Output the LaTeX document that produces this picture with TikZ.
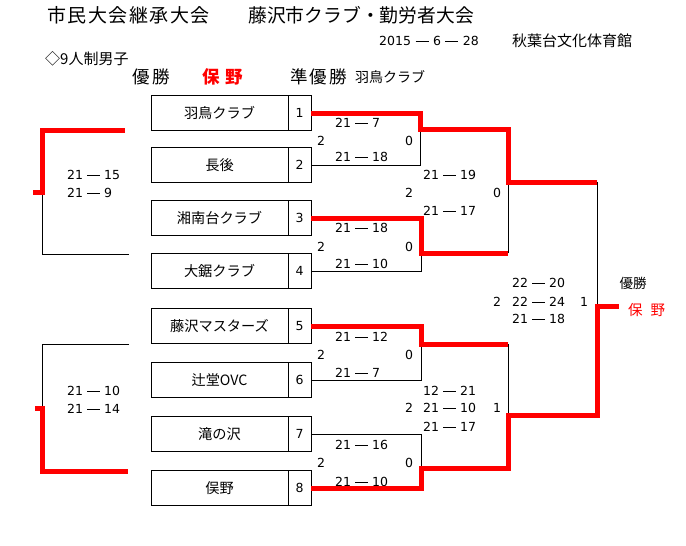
\documentclass[tikz,border=0pt]{standalone}
\usepackage{fontspec}
\setmainfont{Noto Sans CJK JP}
\newfontfamily\digfont{DejaVu Sans}
\newcommand\fsz[1]{\fontsize{#1}{#1}\selectfont}
\newcommand\mydash[1]{\kern#1\rule[4.1pt]{13pt}{0.9pt}\kern#1}
\newcommand\myscore[2]{#1\mydash{4pt}#2}
\begin{document}
\begin{tikzpicture}[x=1pt,y=-1pt,
  bline/.style={line width=0.8pt,black},
  win/.style={line width=5pt,red},
  namebox/.style={draw,line width=0.8pt,minimum width=137pt,minimum height=35pt,inner sep=0pt,outer sep=0pt,font=\fsz{14.2}},
  numbox/.style={draw,line width=0.8pt,minimum width=23pt,minimum height=35pt,inner sep=0pt,outer sep=0pt,font=\digfont\fsz{12.5},anchor=west},
  scorelbl/.style={anchor=west,inner sep=0pt,font=\digfont\fsz{12.5}},
  setlbl/.style={inner sep=0pt,font=\digfont\fsz{12.5}},
  hdr/.style={anchor=west,inner sep=0pt},
]
\useasboundingbox (0,0) rectangle (686,546);

% header
\node[hdr,font=\fsz{19}] (title1) at (47,15) {市\kern1.5pt民\kern1.5pt大\kern1.5pt会\kern1.5pt継\kern1.5pt承\kern1.5pt大\kern1.5pt会};
\node[hdr,font=\fsz{18.8}] (title2) at (248,15) {藤沢市クラブ・勤労者大会};
\node[hdr,font=\digfont\fsz{12.5}] (date) at (379,41) {2015\mydash{4.5pt}6\mydash{4.5pt}28};
\node[hdr,font=\fsz{15}] (venue) at (512,41) {秋葉台文化体育館};
\node[hdr,font=\fsz{15}] (cat) at (45,59) {◇9人制男子};
\node[hdr,font=\fsz{17.5}] (wlbl) at (132,77) {優\kern3pt勝};
\node[hdr,font=\fsz{17.5}\bfseries,text=red] (wname) at (202,77) {保\kern6pt野};
\node[hdr,font=\fsz{17.5}] (rlbl) at (290,77) {準\kern2pt優\kern2pt勝};
\node[hdr,font=\fsz{14}] (rname) at (355,77) {羽鳥クラブ};

% teams
\node[namebox] (t1) at (219.5,113) {羽鳥クラブ};
\node[numbox] (n1) at (t1.east) {1};
\node[namebox] (t2) at (219.5,165) {長後};
\node[numbox] (n2) at (t2.east) {2};
\node[namebox] (t3) at (219.5,218) {湘南台クラブ};
\node[numbox] (n3) at (t3.east) {3};
\node[namebox] (t4) at (219.5,271) {大鋸クラブ};
\node[numbox] (n4) at (t4.east) {4};
\node[namebox] (t5) at (219.5,326) {藤沢マスターズ};
\node[numbox] (n5) at (t5.east) {5};
\node[namebox] (t6) at (219.5,380) {辻堂OVC};
\node[numbox] (n6) at (t6.east) {6};
\node[namebox] (t7) at (219.5,434) {滝の沢};
\node[numbox] (n7) at (t7.east) {7};
\node[namebox] (t8) at (219.5,488) {俣野};
\node[numbox] (n8) at (t8.east) {8};

% scores round 1
\node[scorelbl] (sA1) at (335,123) {\myscore{21}{7}};
\node[setlbl] (wA) at (321,141) {2};
\node[setlbl] (lA) at (409,141) {0};
\node[scorelbl] (sA2) at (335,157) {\myscore{21}{18}};
\node[scorelbl] (sB1) at (335,228) {\myscore{21}{18}};
\node[setlbl] (wB) at (321,247) {2};
\node[setlbl] (lB) at (409,247) {0};
\node[scorelbl] (sB2) at (335,264) {\myscore{21}{10}};
\node[scorelbl] (sC1) at (335,337) {\myscore{21}{12}};
\node[setlbl] (wC) at (321,355) {2};
\node[setlbl] (lC) at (409,355) {0};
\node[scorelbl] (sC2) at (335,373) {\myscore{21}{7}};
\node[scorelbl] (sD1) at (335,445) {\myscore{21}{16}};
\node[setlbl] (wD) at (321,463) {2};
\node[setlbl] (lD) at (409,463) {0};
\node[scorelbl] (sD2) at (335,482) {\myscore{21}{10}};
% round 2
\node[scorelbl] (sE1) at (423,175) {\myscore{21}{19}};
\node[setlbl] (wE) at (409,193) {2};
\node[setlbl] (lE) at (497,193) {0};
\node[scorelbl] (sE2) at (423,211) {\myscore{21}{17}};
\node[scorelbl] (sF1) at (423,391) {\myscore{12}{21}};
\node[setlbl] (wF) at (409,408) {2};
\node[scorelbl] (sF2) at (423,408) {\myscore{21}{10}};
\node[setlbl] (lF) at (497,408) {1};
\node[scorelbl] (sF3) at (423,427) {\myscore{21}{17}};
% final
\node[scorelbl] (sG1) at (512,283) {\myscore{22}{20}};
\node[setlbl] (wG) at (497,302) {2};
\node[scorelbl] (sG2) at (512,302) {\myscore{22}{24}};
\node[setlbl] (lG) at (584,302) {1};
\node[scorelbl] (sG3) at (512,319) {\myscore{21}{18}};
\node[inner sep=0pt,font=\fsz{13.5}] (champlbl) at (633,283) {優勝};
\node[anchor=west,inner xsep=9pt,inner ysep=0pt,font=\fsz{14.5},text=red] (champ) at (619,310) {保\kern8pt野};
% left brackets
\node[scorelbl] (sL1) at (67,175) {\myscore{21}{15}};
\node[scorelbl] (sL2) at (67,193) {\myscore{21}{9}};
\node[scorelbl] (sM1) at (67,391) {\myscore{21}{10}};
\node[scorelbl] (sM2) at (67,409) {\myscore{21}{14}};

% coordinates
\coordinate (jA) at (420,129);
\coordinate (jB) at (421,253);
\coordinate (jC) at (421,344);
\coordinate (jD) at (421,468);
\coordinate (sA) at (508,182);
\coordinate (sB) at (508,415);
\coordinate (fA) at (597,182);
\coordinate (fB) at (597,415);
\coordinate (f) at (597,306);
\coordinate (lA1) at (125,130);
\coordinate (lA2) at (42,130);
\coordinate (lA3) at (42,192);
\coordinate (lA0) at (33,192);
\coordinate (lA4) at (42,254);
\coordinate (lA5) at (129,254);
\coordinate (lB1) at (129,344);
\coordinate (lB2) at (42,344);
\coordinate (lB3) at (42,408);
\coordinate (lB0) at (35,408);
\coordinate (lB4) at (42,471);
\coordinate (lB5) at (128,471);

% black lines
\draw[bline] (n2.east) -| (jA);
\draw[bline] (n4.east) -| (jB);
\draw[bline] (jB -| sA) -- (sA);
\draw[bline] (n6.east) -| (jC);
\draw[bline] (n7.east) -| (jD);
\draw[bline] (jC -| sB) -- (sB);
\draw[bline] (fA) -- (f);
\draw[bline] (lA3) -- (lA4) -- (lA5);
\draw[bline] (lB1) -- (lB2) -- (lB3);

% red (winner) lines
\draw[win] (n1.east) -| (jA) -| (sA) -- (fA);
\draw[win] (n3.east) -| (jB) -- (jB -| sA);
\draw[win] (n5.east) -| (jC) -- (jC -| sB);
\draw[win] (n8.east) -| (jD) -| (sB) -- (fB) -- (f) -- (champ.west |- f);
\draw[win] (lA1) -- (lA2) -- (lA3) -- (lA0);
\draw[win] (lB0) -- (lB3) -- (lB4) -- (lB5);
\end{tikzpicture}
\end{document}
